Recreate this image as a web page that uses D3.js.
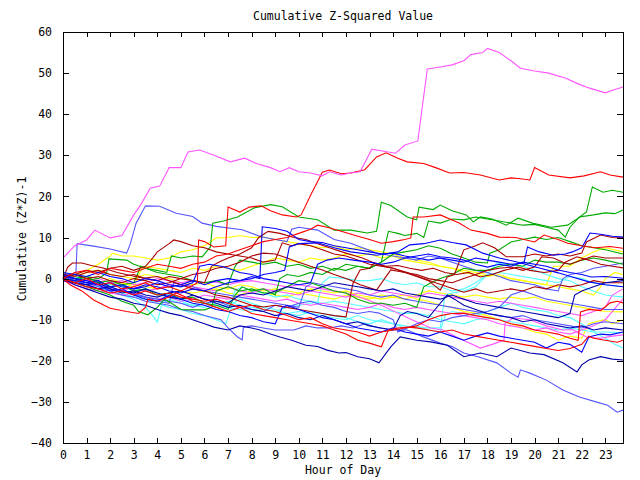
<!DOCTYPE html>
<html>
<head>
<meta charset="utf-8">
<script src="https://cdn.jsdelivr.net/npm/d3@7"></script>
<style>
  body { margin: 0; background: #fff; }
  svg { display: block; }
  text { font-family: "DejaVu Sans Mono", monospace; font-size: 11.5px; fill: #000; }
</style>
</head>
<body>
<svg width="640" height="480"></svg>
<script>
// x ticks are hours, y ticks every 10
const hourTicks = d3.range(0, 24);
const valueTicks = [-40, -30, -20, -10, 0, 10, 20, 30, 40, 50, 60];

// series: [hour, cumulative value]
const magentaTop = [[0,5],[0.5,8],[1,9.4],[1.35,11.8],[2,9.9],[2.5,10.5],[3,15.5],[3.3,18],[3.7,22],[4.1,22.5],[4.5,27],[5,27],[5.3,30.8],[5.8,31.3],[6.4,30],[7.1,28.4],[7.7,29.3],[8.2,28],[8.8,27],[9.2,26],[9.6,27],[10,26],[10.5,25.7],[11,25],[11.3,26],[11.8,25.2],[12.2,25.7],[12.6,26],[13.1,31.5],[13.6,31],[14.1,30.5],[14.5,32.5],[15.05,33.5],[15.45,51],[16,51.5],[16.5,52],[17,53],[17.3,54.5],[17.8,55],[18,56],[18.5,55],[19,53],[19.4,51.2],[20,50.5],[20.6,50],[21.3,48.8],[21.8,47.5],[22.3,46.4],[23,45.2],[23.4,46],[23.75,46.6]];
const magenta2 = [[0,0],[0.5,-1],[1,-2],[1.5,-1.5],[2,-2.5],[2.5,-3],[3,-2],[3.5,-3],[4,-2.5],[4.5,-1.5],[5,-1],[5.5,-0.5],[6,-1],[6.5,-0.8],[7,-1.5],[7.5,-0.8],[8,-0.5],[8.5,-1],[9,-1.5],[9.5,-2],[10,-1.5],[10.5,-2],[11,-2.5],[11.3,-2.8],[12,-3.5],[12.7,-4.7],[13.5,-6.5],[14.2,-8.4],[14.8,-10],[15.6,-12],[16.1,-12.5],[16.8,-14.5],[17.7,-16.9],[18.2,-16],[18.7,-15],[18.75,-10.8],[19.1,-9.6],[19.8,-10],[20.5,-11.5],[21.2,-12.5],[21.6,-12.4],[22.2,-14.2],[22.8,-14.5],[23.3,-14],[23.75,-13.7]];
const magenta3 = [[0,-0.5],[0.5,-1.5],[1,-2.5],[1.5,-3],[2,-3.5],[2.5,-4],[3,-3.5],[3.5,-4.5],[4,-5],[4.5,-4.5],[5,-5.5],[5.5,-5],[6,-4],[6.5,-4.5],[7,-5],[7.5,-4],[8,-4.5],[8.5,-5],[9,-5.5],[9.5,-5],[10,-6],[10.5,-6.5],[11,-6],[11.5,-6.5],[12,-7],[12.5,-7.5],[13,-7],[13.5,-6],[14,-7],[14.5,-7.5],[15,-7],[15.5,-7.5],[16,-8],[16.5,-8.5],[17,-9],[17.5,-9.5],[18,-10],[18.5,-11],[19,-11.5],[19.5,-12],[20,-12.5],[20.5,-12],[21,-13],[21.5,-13.5],[22,-12.5],[22.5,-11.5],[23,-10],[23.3,-8],[23.75,-5]];
const magenta4 = [[0,0.5],[0.5,0],[1,-0.5],[1.5,0],[2,-1],[2.5,-0.5],[3,-1.5],[3.5,-1],[4,0],[4.5,-0.5],[5,-1],[5.5,-2],[6,-2.5],[6.5,-3],[7,-2],[7.5,-3],[8,-3.5],[8.5,-2.5],[9,-3],[9.5,-3.5],[10,-4],[10.5,-3],[11,-3.5],[11.5,-4],[12,-4.5],[12.5,-3.5],[13,-4],[13.5,-3],[14,-3.5],[14.5,-4],[15,-4.5],[15.5,-3.5],[16,-4],[16.5,-4.5],[17,-5],[17.5,-5.5],[18,-6],[18.5,-5.5],[19,-6],[19.5,-6.5],[20,-7],[20.5,-7.5],[21,-8],[21.5,-8.5],[22,-9],[22.5,-8],[23,-7],[23.3,-4],[23.75,-2.5]];

const redHigh = [[0,0],[0.5,-1],[1,0],[1.5,-1.5],[2,-1],[2.5,-2.5],[3,-2],[3.5,-1],[4,-2.5],[4.5,-2],[5,-3],[5.4,-2],[5.7,-1],[5.75,9.4],[6,9],[6.4,7.7],[6.9,8],[7,17.4],[7.5,16.2],[7.9,17.4],[8.4,17.7],[8.8,16.5],[9.3,15.5],[9.9,15],[10.1,15.5],[10.5,20.3],[11,25.9],[11.3,26.4],[11.8,25.5],[12.2,25.7],[12.8,26.5],[13.3,29.6],[13.7,30.6],[14.2,29.3],[14.6,28.4],[15.3,28],[15.8,27],[16.4,25.7],[17,25.8],[17.7,25.2],[18.5,24],[19,24.5],[19.4,24.3],[19.8,24],[20,27],[20.6,25.2],[21.5,24.5],[22.1,25],[22.8,26],[23.2,25.2],[23.75,24.7]];
const red3 = [[0,0],[0.5,1.5],[1,2],[1.5,1],[2,2.5],[2.5,2],[3,1.5],[3.5,2.5],[4,3.5],[4.5,3],[5,2.5],[5.5,3.5],[6,4],[6.5,5.5],[7,6],[7.5,7],[8,8],[8.5,9],[9,9.5],[9.5,10],[10,11],[10.5,12],[10.8,13],[11.2,12.5],[11.8,11.5],[12.4,10.5],[13,9.5],[13.5,8.6],[14,9],[14.5,9.5],[14.75,9.9],[14.85,15],[15.3,15],[16,15.5],[16.8,13.5],[17.3,11.8],[18,11],[18.5,10.1],[19.2,10],[20,8.9],[20.4,10.6],[21,9.5],[21.4,8.6],[22,8],[22.6,7.5],[23.2,7.8],[23.75,7.4]];
const red4 = [[0,0],[0.5,-1],[1,-2],[1.5,-2.5],[2,-3.5],[2.5,-3],[3,-4],[3.5,-3],[4,-4],[4.5,-3.5],[5,-4.5],[5.5,-5],[6,-5.5],[6.5,-5],[7,-6],[7.5,-7],[8,-6.5],[8.5,-7.5],[9,-8],[9.5,-9],[10,-10],[10.5,-9.5],[11,-11],[11.5,-12],[12,-12.5],[12.5,-13],[13,-14],[13.5,-13],[14,-12.5],[14.5,-12],[15,-11.5],[15.5,-10],[16,-9],[16.5,-8.5],[17,-8.4],[17.5,-9],[18,-9.5],[18.5,-10],[19,-11],[19.5,-11.5],[20,-12.5],[20.5,-13],[21,-13.5],[21.5,-14.5],[21.85,-15],[21.95,-8.1],[22.3,-7.5],[22.8,-7.8],[23.2,-5.9],[23.5,-5.5],[23.75,-5.9]];
const red5 = [[0,0],[0.3,-1.5],[0.8,-3],[1.3,-5.2],[2,-7.2],[2.7,-8],[3.2,-8.5],[3.5,-7],[3.6,-5],[4,-5.5],[4.5,-4.5],[4.8,-3.5],[5.2,-4.5],[5.5,-5.5],[6,-6],[6.5,-7],[7,-8],[7.5,-7],[8,-8.5],[8.5,-9],[9,-9.5],[9.5,-10],[10,-10.5],[10.5,-11],[11,-11.5],[11.5,-12.5],[12,-13.5],[12.5,-15],[13,-15.7],[13.5,-16.6],[13.8,-12.5],[14.2,-12],[14.6,-11.8],[15,-12],[15.5,-12.5],[16,-13],[16.5,-12.5],[17,-13.5],[17.5,-14],[18,-14.5],[18.5,-15],[19,-15.5],[19.5,-16],[20,-16.5],[20.5,-17],[21,-17.5],[21.5,-17],[22,-16],[22.3,-14],[22.5,-14.5],[23,-15],[23.5,-15.5],[23.75,-15]];

const darkRed1 = [[0,0.5],[0.5,1],[1,0],[1.5,0.5],[2,-0.5],[2.5,-1],[3,0],[3.5,-0.5],[4,-1.5],[4.5,-1],[5,0],[5.5,1],[6,1.5],[6.5,2.5],[7,3],[7.5,4],[8,5.5],[8.5,6.2],[9,6],[9.5,5],[10,4],[10.5,3],[11,2.1],[11.5,1],[12,0],[12.2,-0.4],[12.6,-1.5],[13.3,-2.8],[13.9,2.1],[14.5,1.5],[15,0.5],[15.5,-0.5],[16,-2.8],[16.3,0.4],[16.6,1],[17,7],[17.5,8],[17.8,8.7],[18.3,7.5],[18.8,5.3],[19.5,5.3],[20,6],[20.5,5.5],[21,6],[21.5,5.5],[22,6.2],[22.2,8.9],[22.8,10.6],[23.3,10],[23.75,9.9]];
const darkRed2 = [[0,0],[0.5,1],[1,2],[1.5,1.5],[2,2.5],[2.5,3],[3,2],[3.5,3],[3.8,5],[4,6.5],[4.5,8.5],[4.7,9.4],[5,9],[5.5,8],[6,7.5],[6.5,6.5],[7,6],[7.5,5.5],[8,5],[8.5,4],[9,4.5],[9.3,8.7],[9.7,8],[10,8.5],[10.5,8],[11,7],[11.5,6],[12,5.5],[12.5,4.5],[13,3.5],[13.5,3],[14,2.5],[14.5,1.5],[15,1],[15.5,0],[16,-0.5],[16.5,-1],[17,0],[17.5,1],[18,2],[18.5,2.5],[19,2.8],[19.5,2],[20,2.8],[20.3,5.3],[20.8,5],[21.2,4],[21.5,3.5],[22,4.5],[22.5,5.5],[23,5],[23.75,5]];
const darkRed3 = [[0,0],[0.2,2.8],[0.4,3.8],[0.8,3.8],[1.2,3.2],[1.7,2.6],[2.3,1.5],[3.4,0.1],[4,0.5],[4.5,-0.5],[5,-1.5],[5.5,-2.5],[6,-3],[6.5,-4],[7,-4.5],[7.5,-5.5],[8,-6.5],[8.5,-6.9],[9,-6.5],[9.5,-7],[10,-7.5],[10.5,-8],[11,-8.5],[11.5,-9],[12,-9.3],[12.3,-1.1],[12.6,2.1],[13,2.5],[13.2,3.8],[13.7,3],[14.2,3.2],[14.7,2.5],[15.2,2],[15.7,2.5],[16.2,1.5],[16.7,1],[17.2,1.5],[17.7,0.4],[18.2,1],[18.7,2],[19.3,2.8],[19.8,2],[20.4,1.5],[21,2],[21.3,4],[21.8,5.3],[22.3,4.5],[22.8,3.5],[23.3,3],[23.75,2.6]];
const darkRed4 = [[0,1],[0.5,0.5],[1,1.5],[1.5,2],[2,1],[2.5,0.5],[3,1],[3.5,0],[4,-0.5],[4.5,0.5],[5,0],[5.5,-0.5],[6,-1],[6.3,3],[6.6,4],[7,5],[7.5,6],[8,7.5],[8.3,10],[8.7,11.5],[9.2,11],[9.8,10],[10.3,9.5],[10.8,8.5],[11.3,7.5],[12,6.2],[12.7,5],[13.4,3.3],[14,2.5],[14.6,1.5],[15.3,0],[15.8,-1],[16.3,-2],[17,-3.3],[17.5,-2.5],[18,-3.5],[18.5,-3],[19,-2.5],[19.5,-3],[20,-2],[20.5,-2.5],[21,-1.5],[21.5,-2],[22,-1.5],[22.5,-0.5],[23,-1],[23.75,-1]];

const green1 = [[0,0],[0.5,-0.5],[1,0.5],[1.5,0],[1.85,1.4],[1.95,4.8],[2.7,4.5],[3,3.5],[3.5,2.5],[4,2],[4.4,1.5],[4.6,5.5],[5,5],[5.5,5.5],[5.9,5.3],[6.25,7.7],[6.35,13.5],[6.8,14],[7.4,15],[8.1,17.2],[8.8,18],[9.3,17.5],[10,15],[10.8,14.3],[11.5,11.8],[12.2,11.8],[12.9,11.1],[13.3,11.5],[13.5,18.6],[13.9,17.8],[14.6,15],[15,14.3],[15.1,17.4],[15.7,16.8],[16,17.9],[16.5,16.5],[17.1,15.5],[17.4,13.8],[17.7,15],[18.2,14.5],[18.8,13],[19.3,14.7],[19.9,13.5],[20.7,12.5],[21.4,13],[21.8,14.5],[22.2,16.2],[22.45,22.3],[22.9,21],[23.3,21.5],[23.75,21]];
const green2 = [[0,1],[0.5,0],[1,0.5],[1.5,-1],[2,-0.5],[2.5,-1.5],[3,-1],[3.3,3],[3.5,2.5],[4,1.5],[4.5,1],[5,0.5],[5.5,-0.5],[6,-1],[6.5,-0.5],[7,-1.5],[7.3,3],[7.5,4.5],[8,4],[8.5,3.5],[9,4],[9.5,3],[10,3.5],[10.5,2.5],[11,3],[11.5,2],[12,3.5],[12.5,3],[13,2.5],[13.5,4],[13.8,11.5],[14.2,11],[14.5,10.5],[15,11],[15.3,10],[15.5,14],[16,13.5],[16.5,14.5],[17,14.3],[17.5,15],[18,14.5],[18.5,14],[19,13.5],[19.5,13],[20,13.2],[20.5,12.5],[21,11.8],[21.3,10.1],[21.5,12.5],[21.9,15],[22.5,15.5],[23,16],[23.4,15.8],[23.75,16.7]];
const green3 = [[0,0.5],[0.5,1],[1,0],[1.5,-0.5],[2,-2],[2.5,-1.5],[3,-3],[3.5,-2.5],[4,-4],[4.5,-3.5],[5,-5],[5.5,-4.5],[6,-6],[6.5,-6.5],[7,-7.5],[7.3,-4],[7.6,-2],[8,-3],[8.5,-2.5],[9,-4],[9.2,0],[9.5,1],[10,0.5],[10.5,1.5],[11,1],[11.5,2.5],[12,2],[12.5,3],[13,2.5],[13.5,4],[14,6],[14.5,6.5],[15,7],[15.5,8],[16,7.4],[16.5,6],[17,5],[17.5,4],[18,3.8],[18.1,6.2],[18.5,7],[19,8.9],[19.5,9.5],[20,10.1],[20.5,9.5],[21,10],[21.5,9],[22,8],[22.5,7.5],[23,7],[23.75,6]];
const green4 = [[0,0],[0.5,-1],[1,-2],[1.5,-3],[2,-4],[2.5,-5.5],[3,-6.5],[3.2,-8],[3.6,-8.8],[4,-7],[4.3,-5],[4.6,-6],[5,-7.5],[5.5,-7.6],[6,-7.6],[6.3,-7],[6.5,-3],[7,-2],[7.5,-3],[8,-2.5],[8.5,-3.5],[9,-3.5],[9.5,-2],[10,-0.5],[10.5,-1],[11,-2],[11.5,-3],[12,-3.5],[12.5,-5],[13,-6],[13.5,-6],[14,-6.5],[14.5,-6],[15,-7],[15.3,-2],[15.6,-1],[16,0],[16.5,1],[17,2.5],[17.5,2],[18,2],[18.5,3],[19,3.5],[19.5,3],[20,4.5],[20.5,4],[21,4],[21.5,3.5],[22,4.5],[22.5,5],[23,4.5],[23.75,3.5]];

const yellow1 = [[0,0],[0.5,1],[1,2],[1.5,3.5],[2,5.5],[2.1,6.2],[2.5,5.5],[3,5.5],[3.5,5],[4,4.5],[4.5,5],[5,6.5],[5.5,7],[6,8],[6.5,9.9],[7,10],[7.5,10.5],[8,10],[8.5,10.1],[9,9.5],[9.5,9],[10,8.5],[10.5,8],[11,7.5],[11.5,8],[12,7],[12.5,7.5],[13,7],[13.5,6.5],[14,6],[14.5,5],[15,4.5],[15.5,4],[16,3],[16.5,2.5],[17,1.5],[17.5,1],[18,0.5],[18.5,1],[19,0],[19.5,-0.5],[20,-1],[20.5,-1.5],[20.8,3],[21.5,3],[22,5],[22.5,6.5],[23,7.5],[23.75,6.5]];
const yellow2 = [[0,1],[0.5,0.5],[1,1.5],[1.5,2],[2,1],[2.5,0.5],[3,0],[3.5,1],[4,0.5],[4.5,0],[5,-1],[5.5,-1.5],[6,-1],[6.5,-2],[7,-2.5],[7.5,-1.5],[8,-2],[8.5,-3],[9,-2.5],[9.5,-3],[10,-3.5],[10.5,-2.5],[11,-3],[11.5,-3.5],[12,-3],[12.5,-4],[13,-4.5],[13.5,-5],[14,-4.5],[14.5,-5],[15,-4],[15.5,-3],[16,-3.5],[16.5,-4],[17,-4.5],[17.5,-4],[18,-4.5],[18.5,-5],[19,-4.5],[19.5,-5],[20,-4.5],[20.5,-5.5],[21,-6],[21.5,-6.5],[22,-7],[22.5,-7.5],[23,-8],[23.75,-8.1]];
const yellow3 = [[0,0.5],[0.5,0],[1,-0.5],[1.5,-1],[2,0],[2.5,-1],[3,-1.5],[3.5,-2],[4,-2.5],[4.5,-2],[5,-3],[5.5,-3.5],[6,-3],[6.5,-2.5],[7,-3.5],[7.5,-4],[8,-3],[8.5,-3.5],[9,-4],[9.5,-4.5],[10,-3.5],[10.5,-4],[11,-4.5],[11.5,-5],[12,-4],[12.5,-4.5],[13,-5],[13.5,-4],[14,-4.5],[14.5,-4],[15,-5],[15.5,-5.5],[16,-6.5],[16.5,-7],[17,-8],[17.5,-8.4],[18,-9],[18.5,-10],[19,-11],[19.5,-12],[20,-13],[20.5,-13.5],[21,-15],[21.5,-14],[22,-14.5],[22.3,-11],[22.6,-10.5],[23,-10],[23.3,-11],[23.75,-10]];
const yellow4 = [[0,0],[0.5,-0.5],[1,0],[1.5,-1],[2,-1.5],[2.5,-1],[3,-2],[3.3,2],[3.5,3],[4,2.5],[4.5,2],[5,1.5],[5.5,2.5],[6,2],[6.5,3],[7,2.5],[7.5,2],[8,3],[8.5,4],[9,5],[9.5,4.5],[10,4],[10.5,5],[11,4.5],[11.5,5],[12,6],[12.5,5.5],[13,6],[13.5,5],[14,5.5],[14.5,4.5],[15,4],[15.5,3.5],[16,3],[16.5,2.5],[17,2],[17.5,1.5],[18,1],[18.5,0.5],[19,0],[19.5,-0.5],[20,-1],[20.5,-1.5],[21,-2],[21.5,-2.5],[22,-3],[22.5,-4],[22.8,-2],[23,0],[23.4,1.5],[23.75,1]];

const cyan1 = [[0,1],[0.5,0.5],[1,0],[1.5,-1],[2,-1.5],[2.5,-2],[3,-3],[3.5,-2.5],[4,-3.5],[4.5,-4],[5,-5],[5.5,-5.5],[6,-6],[6.5,-6.5],[7,-7],[7.5,-7.5],[8,-8],[8.5,-7.5],[9,-8],[9.5,-7],[10,-6.5],[10.5,-6],[10.8,-5.7],[11,-1],[11.3,0.4],[12,0],[12.5,-0.5],[13,-0.5],[13.5,0],[14,-1],[14.5,-1.5],[15,-1],[15.5,-2],[16,-2],[16.5,-3],[17,-2.5],[17.5,-1],[18,1],[18.5,1.5],[19,1],[19.5,0.5],[20,0],[20.5,-0.5],[21,-1],[21.5,0.5],[22,0],[22.5,-1],[23,-1.5],[23.75,-2]];
const cyan2 = [[0,1.5],[0.5,0.5],[1,-0.5],[1.5,-1],[2,-2],[2.5,-1.5],[3,-2.5],[3.5,-3],[4,-4],[4.5,-4.5],[5,-5.5],[5.5,-6.5],[6,-6],[6.5,-7],[7,-6.5],[7.3,-3],[7.6,-2],[8,-3],[8.5,-3.5],[9,-4.5],[9.5,-4],[10,-5],[10.5,-5.5],[11,-6],[11.5,-5.5],[12,-6],[12.5,-6.5],[13,-7],[13.5,-7.5],[14,-8],[14.5,-8.5],[15,-8.4],[15.5,-9],[16,-10],[16.5,-10.5],[17,-11],[17.5,-10],[18,-9.5],[18.5,-10],[19,-10.5],[19.5,-11],[20,-11.5],[20.5,-12],[21,-12.5],[21.5,-12],[22,-12.5],[22.5,-13],[23,-13],[23.75,-13.2]];
const cyan3 = [[0,0.5],[0.5,-0.5],[1,-1],[1.5,-2],[2,-2.5],[2.5,-3.5],[3,-4.5],[3.5,-5],[4,-6],[4.5,-7],[5,-7.5],[5.5,-8.5],[6,-9],[6.5,-10],[6.9,-11],[7.2,-6],[7.5,-5],[8,-6],[8.5,-7],[9,-7.5],[9.5,-8.5],[10,-9],[10.5,-8],[11,-8.5],[11.5,-9],[12,-9.5],[12.5,-10.5],[13,-11],[13.5,-10],[14,-11],[14.5,-12],[15,-11.5],[15.5,-12.5],[16,-13],[16.2,-9],[16.5,-8],[17,-8.5],[17.5,-9],[18,-8],[18.5,-7],[19,-6],[19.5,-7],[20,-7.6],[20.5,-8],[21,-9],[21.5,-9.5],[22,-11],[22.5,-13],[23,-14.5],[23.4,-16],[23.75,-16.9]];
const cyan4 = [[0,0],[0.5,-0.5],[1,-1.5],[1.5,-2],[2,-3],[2.5,-4],[3,-5],[3.5,-7],[3.8,-9],[4,-10.6],[4.2,-6],[4.5,-5],[5,-6],[5.5,-6.5],[6,-7],[6.5,-6],[7,-5.5],[7.5,-6.5],[8,-7],[8.5,-7.5],[9,-8],[9.5,-8.5],[10,-8],[10.5,-8.5],[11,-9],[11.5,-9.6],[12,-10],[12.5,-9],[13,-10],[13.5,-10.5],[14,-11],[14.5,-11.5],[15,-12],[15.5,-12],[16,-12],[16.2,-4],[16.5,-3.5],[17,-3],[17.5,-2],[18,1],[18.4,3.8],[18.8,3.5],[19.5,3],[20,2],[20.5,1],[21,0],[21.5,-0.5],[22,-2],[22.5,-3],[23,-4],[23.75,-4.5]];

const blue1 = [[0,0],[0.5,-0.5],[1,-1],[1.5,-0.5],[2,-2],[2.5,-1.5],[3,-2.5],[3.5,-2],[4,-1],[4.5,-2],[5,-1.5],[5.5,-0.5],[6,-1.5],[6.5,-0.5],[7,0],[7.5,-0.5],[8,0.5],[8.35,0],[8.45,12.6],[9,12.2],[9.5,11.5],[10,9.5],[10.5,9],[11,8.8],[11.5,8],[12,7.5],[12.5,7],[13,6.5],[13.5,6],[14,6.2],[14.5,5.5],[15,5],[15.5,4.5],[16,5],[16.5,4.5],[17,4],[17.5,5],[18,4.5],[18.5,4],[19,3.5],[19.55,3.8],[19.7,7.7],[20.2,6.5],[20.8,5.7],[21.3,6],[21.6,6.5],[22,7.5],[22.35,11.1],[22.8,10.8],[23.3,10.3],[23.75,10.1]];
const blue2 = [[0,0.5],[0.5,0],[1,-0.5],[1.5,-1.5],[2,-1],[2.5,-2],[3,-2.5],[3.5,-1.5],[4,-2],[4.5,-3],[5,-3.5],[5.5,-2.5],[6,-3],[6.5,-2],[7,-1],[7.5,-0.5],[8,0],[8.5,1],[9,1.5],[9.4,2],[9.6,7.7],[10,8.5],[10.8,8.7],[11.5,7.5],[12.2,6.5],[13.3,5.7],[14.2,6.5],[14.7,8.2],[15.3,8.5],[16,9.4],[16.5,8.8],[17.1,8.2],[17.8,6.2],[18.5,5],[19.3,4],[20.2,2.6],[21,1.4],[21.6,0.4],[22.3,-0.8],[23,-1.5],[23.75,-2]];
const blue3 = [[0,1.5],[0.5,1],[1,0.5],[1.5,1.5],[2,0.5],[2.5,0],[3,-1],[3.5,0],[4,-0.5],[4.5,-1.5],[5,-2],[5.5,-1],[5.8,3],[6.2,3.5],[6.7,3],[7,2.5],[7.5,1.5],[8,1],[8.5,0],[9,-0.5],[9.5,-1],[10,-1.5],[10.5,-1],[10.8,3.5],[11.2,4.5],[11.7,5],[12.3,4.5],[13,4],[13.5,3.5],[14,4],[14.5,5],[15,5.5],[15.5,6],[16,5.3],[16.5,5],[17,4.5],[17.5,3.5],[18,2.8],[18.5,3.5],[19,3],[19.5,4],[20,3.5],[20.5,3],[21,2.1],[21.5,1.5],[22,1],[22.4,0.4],[23,0.5],[23.75,0.1]];
const blue4 = [[0,1],[0.5,0],[1,-1],[1.5,-1.5],[2,-3],[2.5,-2.5],[3,-4],[3.5,-5],[4,-5.5],[4.5,-4],[5,-5],[5.5,-6],[6,-6.5],[6.5,-7.5],[7,-8],[7.5,-9],[8,-9.5],[8.5,-10.5],[9,-11],[9.3,-7],[9.5,-6.5],[10,-7.5],[10.5,-8.5],[11,-9.5],[11.5,-10],[12,-11],[12.5,-12],[13,-12.5],[13.5,-13],[14,-12],[14.5,-13],[15,-13.5],[15.5,-14],[16,-13],[16.5,-14],[17,-15],[17.5,-14],[18,-13.2],[18.5,-14],[19,-14.5],[19.5,-15],[20,-15.5],[20.5,-16.9],[21,-15.5],[21.5,-16],[22,-17.9],[22.3,-14.2],[22.8,-13.5],[23.2,-13.7],[23.75,-13]];

const navy1 = [[0,-0.5],[0.5,-1],[1,-1.5],[1.5,-1],[2,-2.5],[2.5,-3.5],[3,-3],[3.5,-4],[4,-4.5],[4.5,-3.5],[5,-3],[5.5,-4],[6,-5],[6.5,-5.5],[7,-6],[7.5,-4],[8,-3.5],[8.5,-4],[9,-3],[9.5,-2],[10,-2.5],[10.5,-3],[11,-2],[11.5,-1],[12,-1.5],[12.5,-2],[13,-2.5],[13.5,-3],[14,-2.5],[14.5,-3.5],[15,-4],[15.5,-4.5],[16,-5],[16.5,-4],[17,-5],[17.5,-6],[18,-6.5],[18.5,-7],[19,-7.5],[19.5,-8],[20,-8.5],[20.5,-9],[21,-9.5],[21.5,-8.5],[21.7,-4],[22,-3],[22.5,-2],[23,-1],[23.75,-0.5]];
const navy2 = [[0,0],[0.5,-1],[1,-1.5],[1.5,-2.5],[2,-2],[2.5,-3],[3,-3.5],[3.5,-2.5],[4,-3.5],[4.5,-4.5],[5,-5],[5.5,-4],[6,-5],[6.5,-6],[7,-7],[7.5,-6.5],[8,-7.5],[8.5,-8],[9,-9],[9.5,-8.5],[10,-9.5],[10.5,-10],[11,-9],[11.5,-10],[12,-11],[12.5,-10.5],[13,-11.5],[13.5,-12],[14,-12.5],[14.3,-9],[14.6,-8],[15,-8.5],[15.5,-9.5],[16,-6],[16.3,-4],[16.6,-5],[17,-6.5],[17.5,-7.5],[18,-8.5],[18.5,-9],[19,-9.5],[19.5,-10.5],[20,-10],[20.5,-11],[21,-11.5],[21.5,-12],[22,-11.5],[22.5,-12.5],[23,-12],[23.75,-12.5]];
const navyLow = [[0,0],[0.5,-1.5],[1,-2.5],[1.5,-3.5],[2,-4.5],[2.5,-5],[3,-6],[3.5,-6.5],[4,-7.5],[4.5,-8.4],[5,-9],[5.5,-10],[6,-11],[6.4,-11.8],[7,-12.5],[7.5,-11.5],[8,-12],[8.35,-12.5],[8.8,-13.5],[9.2,-14.2],[9.7,-15],[10.3,-16.2],[10.8,-16.5],[11.2,-17.4],[11.7,-18.1],[12,-18],[12.5,-19],[13,-19.5],[13.4,-20.5],[13.9,-16.6],[14.3,-14.2],[15,-15],[15.6,-15.4],[16.3,-16.2],[17,-19],[17.7,-18.1],[18.4,-19],[19,-16.9],[19.8,-18.1],[20.4,-18.5],[21.2,-20.5],[21.8,-22.7],[22,-21],[22.3,-19.8],[22.8,-19],[23.3,-19.6],[23.75,-19.8]];

const lavender1 = [[0,1],[0.3,1],[0.55,1.5],[0.6,8.5],[1.3,7.9],[2,7.2],[2.7,6.2],[2.85,8.4],[3.1,13.5],[3.5,17.7],[4.1,17.6],[4.8,15.9],[5.5,15.1],[5.9,13.5],[6.5,12.7],[7.6,11.9],[8.4,10.2],[9,9.5],[9.5,9],[9.7,12],[10,12.5],[10.8,11.8],[11.5,9.5],[12.2,8.6],[13.3,6.2],[14,5.5],[14.5,5],[15,4.5],[15.5,5.5],[16,5],[16.5,4],[17,3],[17.5,2],[18,1.5],[18.5,0.5],[19,-0.5],[19.5,-1],[20,-1.5],[20.5,-2.5],[21,-3],[21.2,0],[21.5,1],[22,1.5],[22.5,2.5],[23,3],[23.75,3.8]];
const lavender2 = [[0,0],[0.5,-0.5],[1,-1],[1.5,-2],[2,-2.5],[2.5,-3],[3,-3.5],[3.5,-4.5],[4,-5],[4.5,-5.5],[5,-6],[5.5,-7],[6,-6],[6.5,-5.5],[7,-6.5],[7.5,-7],[8,-7.5],[8.5,-8],[9,-6.5],[9.5,-7],[10,-6],[10.5,-5.5],[11,-6.5],[11.5,-7],[12,-8],[12.5,-8.5],[13,-8],[13.4,-8.4],[14,-10],[14.2,-13],[14.6,-12],[15,-11],[15.5,-10],[16,-10.5],[16.5,-9.5],[17,-9],[17.5,-8.5],[18,-8],[18.5,-7],[19,-4],[19.5,-3],[20,-4],[20.5,-5],[21,-5.5],[21.5,-6],[22,-6.5],[22.5,-7],[23,-7.5],[23.75,-7.5]];
const lavenderLow = [[0,0.5],[0.5,-0.5],[1,-1.5],[1.5,-2.5],[2,-3],[2.5,-4],[3,-4.5],[3.5,-5.5],[4,-6],[4.5,-6.5],[5,-7.5],[5.5,-8],[6,-9],[6.7,-10],[7,-12],[7.4,-14.2],[7.6,-14.9],[7.65,-11.8],[8,-11.5],[8.5,-12],[9,-12.5],[9.8,-12.5],[10.3,-11.5],[10.8,-12],[11.3,-12],[11.8,-11.5],[12.3,-12],[12.8,-11],[13.4,-12],[14,-12.5],[14.6,-12.5],[15.2,-14],[16,-15.7],[16.5,-16.5],[17,-18.1],[17.6,-19],[18.4,-20.5],[19,-23],[19.3,-24],[19.4,-22.2],[19.8,-23],[20.5,-24.7],[21.2,-27.1],[21.9,-28.8],[22.6,-30],[23.1,-30.8],[23.5,-32.5],[23.75,-32]];
const lavender4 = [[0,0.5],[0.5,0],[1,-1],[1.5,-1.5],[2,-2],[2.5,-3],[3,-4],[3.5,-4.5],[4,-5.5],[4.5,-6],[4.7,-1],[5,-1.5],[5.5,-2],[6,-3],[6.5,-3.5],[7,-4],[7.5,-4.5],[8,-5],[8.5,-5.5],[9,-6],[9.5,-6.5],[10,-7],[10.3,-2],[10.6,-1],[11,-1.5],[11.5,-2],[12,-2.5],[12.5,-3],[13,-4],[13.5,-4.5],[14,-4],[14.5,-5],[15,-5.5],[15.5,-6],[16,-6.5],[16.5,-7],[17,-7.5],[17.5,-8],[18,-8.5],[18.5,-9],[19,-9.5],[19.5,-9],[20,-10],[20.5,-10.5],[21,-11],[21.5,-11.5],[22,-12],[22.5,-11],[23,-10.5],[23.75,-11]];

const seriesList = [
  [yellow1, '#ffff00'], [yellow2, '#ffff00'], [yellow3, '#ffff00'], [yellow4, '#ffff00'],
  [cyan1, '#55ffff'], [cyan2, '#55ffff'], [cyan3, '#55ffff'], [cyan4, '#55ffff'],
  [magenta2, '#ff55ff'], [magenta3, '#ff55ff'], [magenta4, '#ff55ff'],
  [lavender2, '#5555ff'], [lavender4, '#5555ff'], [lavenderLow, '#5555ff'], [lavender1, '#5555ff'],
  [green3, '#00aa00'], [green4, '#00aa00'], [green2, '#00aa00'], [green1, '#00aa00'],
  [darkRed1, '#aa0000'], [darkRed2, '#aa0000'], [darkRed3, '#aa0000'], [darkRed4, '#aa0000'],
  [navy1, '#0000aa'], [navy2, '#0000aa'], [navyLow, '#0000aa'],
  [blue1, '#0000ff'], [blue2, '#0000ff'], [blue3, '#0000ff'], [blue4, '#0000ff'],
  [red3, '#ff0000'], [red4, '#ff0000'], [red5, '#ff0000'], [redHigh, '#ff0000'],
  [magentaTop, '#ff55ff'],
];

const svg = d3.select('svg');
const plotLeft = 63, plotRight = 623, plotTop = 32, plotBottom = 443;

const x = d3.scaleLinear().domain([0, 23.75]).range([plotLeft, plotRight]);
const y = d3.scaleLinear().domain([-40, 60]).range([plotBottom, plotTop]);

const line = d3.line()
  .x(d => x(d[0]))
  .y(d => y(d[1]));

svg.append('g')
  .selectAll('path')
  .data(seriesList)
  .enter().append('path')
  .attr('d', d => line(d[0]))
  .attr('fill', 'none')
  .attr('stroke', d => d[1])
  .attr('stroke-width', 1.1)
  .attr('stroke-linejoin', 'miter');

// axes, ticks point inward
const xAxis = svg.append('g')
  .attr('transform', `translate(0,${plotBottom})`)
  .call(d3.axisBottom(x).tickValues(hourTicks).tickSize(-5).tickPadding(8).tickFormat(d3.format('d')));
const xTop = svg.append('g')
  .attr('transform', `translate(0,${plotTop})`)
  .call(d3.axisTop(x).tickValues(hourTicks).tickSize(-5).tickFormat(''));
const yAxis = svg.append('g')
  .attr('transform', `translate(${plotLeft},0)`)
  .call(d3.axisLeft(y).tickValues(valueTicks).tickSize(-6).tickPadding(11).tickFormat(d3.format('d')));
const yRight = svg.append('g')
  .attr('transform', `translate(${plotRight},0)`)
  .call(d3.axisRight(y).tickValues(valueTicks).tickSize(-6).tickFormat(''));

[xAxis, xTop, yAxis, yRight].forEach(g => {
  g.select('.domain').remove();
  g.selectAll('line').attr('stroke', '#000').attr('shape-rendering', 'crispEdges');
  g.selectAll('text').attr('font-family', null).attr('font-size', null).attr('fill', '#000');
});

svg.append('rect')
  .attr('x', plotLeft + 0.5).attr('y', plotTop + 0.5)
  .attr('width', plotRight - plotLeft).attr('height', plotBottom - plotTop)
  .attr('fill', 'none').attr('stroke', '#000')
  .attr('shape-rendering', 'crispEdges');

svg.append('text')
  .attr('x', 343).attr('y', 20)
  .attr('text-anchor', 'middle')
  .text('Cumulative Z-Squared Value');

svg.append('text')
  .attr('x', 343).attr('y', 474)
  .attr('text-anchor', 'middle')
  .text('Hour of Day');

svg.append('text')
  .attr('transform', 'translate(26,239) rotate(-90)')
  .attr('text-anchor', 'middle')
  .text('Cumulative (Z*Z)-1');
</script>
</body>
</html>
